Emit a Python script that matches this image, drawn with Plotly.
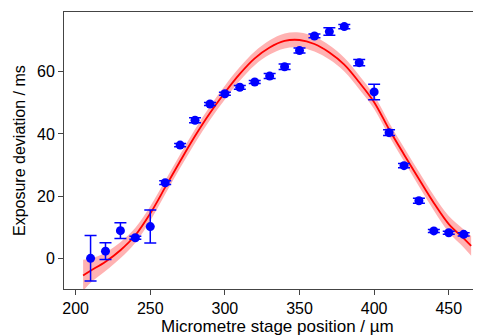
import plotly.graph_objects as go

# Measured points
pos = [210, 220, 230, 240, 250, 260, 270, 280, 290, 300, 310, 320, 330,
       340, 350, 360, 370, 380, 390, 400, 410, 420, 430, 440, 450, 460]
dev = [0.0, 2.3, 8.9, 6.6, 10.2, 24.3, 36.4, 44.4, 49.6, 52.9, 55.0, 56.7, 58.6,
       61.6, 66.8, 71.5, 72.9, 74.5, 62.9, 53.5, 40.4, 29.8, 18.5, 8.8, 8.2, 7.7]
err = [7.3, 2.7, 2.5, 0.5, 5.3, 0.6, 0.5, 0.8, 0.5, 0.5, 0.6, 0.5, 0.8,
       0.9, 0.8, 0.6, 1.2, 0.7, 1.0, 2.5, 0.9, 0.7, 0.8, 0.5, 0.5, 0.5]

# Fitted curve and its confidence band
fit_x = [205, 210, 220, 230, 240, 250, 260, 270, 280, 290, 300, 310, 320, 330,
         340, 350, 360, 370, 380, 390, 400, 410, 420, 430, 440, 450, 460, 465]
fit_y = [-5.5, -4.0, -1.1, 2.6, 7.4, 14.4, 22.8, 31.2, 39.3, 46.7, 53.3, 59.3, 64.3, 67.8,
         69.9, 70.2, 68.9, 66.2, 62.3, 56.6, 50.2, 41.5, 33.4, 25.5, 17.8, 11.0, 6.4, 4.0]
band = [5.0, 3.9, 3.0, 2.6, 2.4, 2.3, 2.2, 2.2, 2.2, 2.2, 2.2, 2.2, 2.2, 2.3,
        2.4, 2.4, 2.4, 2.3, 2.2, 2.2, 2.2, 2.2, 2.2, 2.3, 2.4, 2.6, 2.9, 3.2]

x_ticks = [200, 250, 300, 350, 400, 450]
y_ticks = [0, 20, 40, 60]

lower = [y - b for y, b in zip(fit_y, band)]
upper = [y + b for y, b in zip(fit_y, band)]

fig = go.Figure()
fig.add_trace(go.Scatter(x=fit_x, y=lower, mode="lines", line=dict(width=0, shape="spline"),
                         hoverinfo="skip", showlegend=False))
fig.add_trace(go.Scatter(x=fit_x, y=upper, mode="lines", line=dict(width=0, shape="spline"),
                         fill="tonexty", fillcolor="rgba(255,0,0,0.3)",
                         hoverinfo="skip", showlegend=False))
fig.add_trace(go.Scatter(x=fit_x, y=fit_y, mode="lines",
                         line=dict(color="rgb(255,0,0)", width=1.8, shape="spline"),
                         showlegend=False))
fig.add_trace(go.Scatter(x=pos, y=dev, mode="markers",
                         marker=dict(color="rgb(0,0,255)", size=9),
                         error_y=dict(type="data", array=err, color="rgb(0,0,255)",
                                      thickness=1.5, width=6),
                         showlegend=False))

# page body has an 8px margin; lay the figure out in window pixels minus that offset
OFF = 8
W, H = 500, 336
ml = 64 - OFF
mt = 12 - OFF
ph = 289 - 12
mb = H - mt - ph
right_edge = 491            # plot area continues past the visible window
mr = W - (right_edge - OFF)
pw = W - ml - mr

def px_x(wx):
    return (wx - OFF - ml) / pw

def px_y(wy):
    return (mt + ph - (wy - OFF)) / ph

fig.update_layout(
    width=W, height=H,
    margin=dict(l=ml, r=mr, t=mt, b=mb, pad=0, autoexpand=False),
    plot_bgcolor="white", paper_bgcolor="white",
    font=dict(family="Liberation Sans, Arial, sans-serif", size=16, color="black"),
    xaxis=dict(range=[192.2, 478.3], tickvals=x_ticks, ticks="outside", ticklen=5,
               tickcolor="#444", showline=True, linecolor="#444", linewidth=1,
               mirror=True, showgrid=False, zeroline=False, automargin=False,
               tickfont=dict(size=16)),
    yaxis=dict(range=[-9.87, 79.2], tickvals=y_ticks, ticks="outside", ticklen=5,
               tickcolor="#444", showline=True, linecolor="#444", linewidth=1,
               mirror=False, showgrid=False, zeroline=False, automargin=False,
               tickfont=dict(size=16)),
    annotations=[
        dict(text="Micrometre stage position / µm", xref="paper", yref="paper",
             x=px_x(277.5), y=px_y(315), xanchor="center", yanchor="top",
             showarrow=False, font=dict(size=17)),
        dict(text="Exposure deviation / ms", xref="paper", yref="paper",
             x=px_x(19.5), y=0.5, xanchor="center", yanchor="middle",
             textangle=-90, showarrow=False, font=dict(size=16)),
    ],
)

fig.write_html("out.html")
